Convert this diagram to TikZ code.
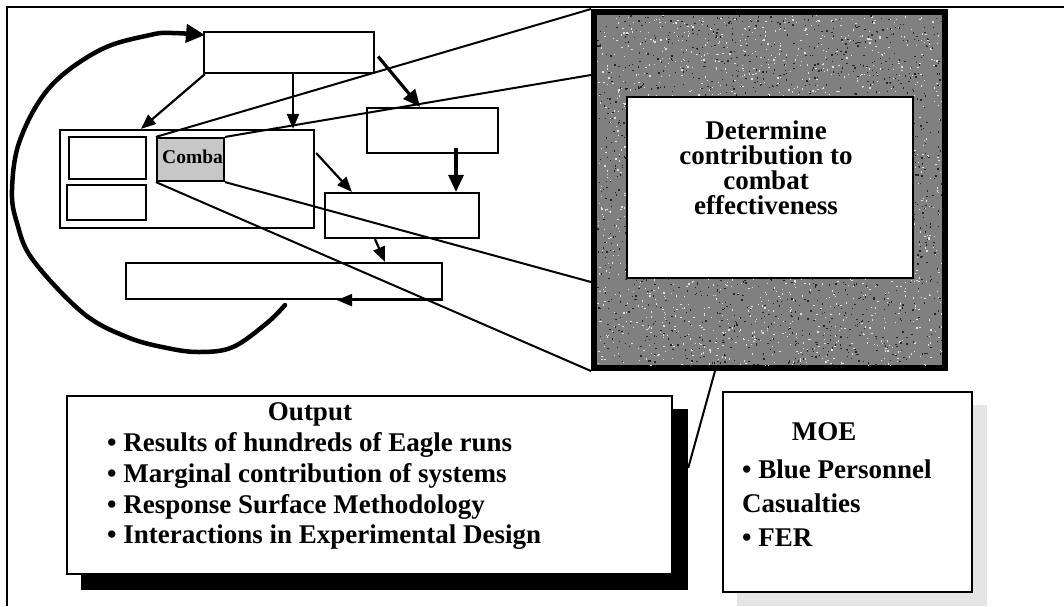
\documentclass[tikz,border=0pt]{standalone}
\usepackage{fontspec}
\setmainfont{Liberation Serif}
\usetikzlibrary{arrows.meta,calc}
\begin{document}
\begin{tikzpicture}[x=1pt,y=-1pt,
  box/.style={draw,line width=2.2pt,fill=white,inner sep=0pt,rectangle},
  arr/.style={line width=2.2pt,-{Triangle[length=15pt,width=12pt]}},
  thickarr/.style={line width=3.2pt,-{Triangle[length=17pt,width=15pt]}},
  cone/.style={line width=2pt},
  bigtxt/.style={font=\fontsize{27}{25}\selectfont\bfseries,align=center,inner sep=0pt},
  listtxt/.style={font=\fontsize{27}{31}\selectfont\bfseries,inner sep=0pt,anchor=base west},
  moetxt/.style={font=\fontsize{27}{31}\selectfont\bfseries,inner sep=0pt,anchor=base west}
]
\useasboundingbox (0,0) rectangle (1064,606);
\fill[white] (0,0) rectangle (1064,606);
% outer frame
\coordinate (f1) at (7,606);
\coordinate (f2) at (7,7);
\coordinate (f3) at (1064,7);
\draw[line width=1.5pt] (f1) -- (f2) -- (f3);

% left flow diagram
\node[box,minimum width=170pt,minimum height=41pt] (top) at (289,52.5) {};
\node[box,minimum width=254pt,minimum height=98pt] (cont) at (187,179) {};
\node[box,minimum width=77pt,minimum height=42pt] (in1) at (107.5,158) {};
\node[box,minimum width=79pt,minimum height=35pt] (in2) at (106.5,202.5) {};
\node[box,fill=black!22,minimum width=67pt,minimum height=43pt] (combat) at (190.5,159.5) {};
\begin{scope}
\clip (157,138) rectangle (223,181);
\node[font=\fontsize{19.5}{19}\selectfont\bfseries,inner sep=0pt,anchor=base west] (combtxt) at (162,163) {Comba};
\end{scope}
\node[box,minimum width=131pt,minimum height=45pt] (r1) at (432.5,130.5) {};
\node[box,minimum width=154pt,minimum height=45pt] (r2) at (402,215.5) {};
\node[box,minimum width=316pt,minimum height=36pt] (bot) at (284,281) {};

% arrows
\draw[arr] ([xshift=2pt]top.south west) -- ([xshift=82pt]cont.north west);
\draw[arr] ([xshift=4pt]top.south) -- ([xshift=4pt]top.south |- cont.north);
\draw[thickarr] ([xshift=3pt,yshift=-4pt]top.east) -- ([xshift=-12.5pt]r1.north);
\draw[thickarr] ([xshift=23.5pt,yshift=6pt]r1.south) -- ([xshift=54pt]r2.north);
\draw[arr] ([xshift=1pt,yshift=26pt]cont.east) -- ([xshift=28pt]r2.north west);
\draw[arr] ([xshift=-27pt]r2.south) -- ([xshift=101pt]bot.north);
\draw[arr] (bot.south east) -- ([xshift=53pt]bot.south);

% big curved feedback arrow
\coordinate (cs) at (285,305);
\coordinate (ct) at (205,35);
\draw[line width=4.5pt,line cap=round,-{Triangle[length=19pt,width=18pt]}]
  plot[smooth,tension=0.6] coordinates {(cs) (267,323) (233,347) (200,352) (167,348) (127,337) (83,313) (33,260) (17,223) (12,190) (20,140) (50,87) (100,50) (150,35) (172,33) (ct)};

% zoom panel
\node[draw,line width=6pt,fill=black!50,minimum width=351pt,minimum height=356pt,inner sep=0pt] (panel) at (769.5,190) {};
\begin{scope}
\clip (597,15) rectangle (942,365);
\pgfmathsetseed{7}
\foreach \i in {1,...,1800}{
  \pgfmathsetmacro\xx{597+345*rnd}
  \pgfmathsetmacro\yy{15+350*rnd}
  \fill[black!12] (\xx,\yy) rectangle ++(1.3,1.3);
}
\foreach \i in {1,...,1800}{
  \pgfmathsetmacro\xx{597+345*rnd}
  \pgfmathsetmacro\yy{15+350*rnd}
  \fill[black!85] (\xx,\yy) rectangle ++(1.3,1.3);
}
\end{scope}
\node[box,minimum width=286pt,minimum height=181pt] (inner) at (770,187.5) {};
\node[bigtxt,anchor=north] (dtext) at (766,121) {Determine\\contribution to\\combat\\effectiveness};

% cone lines
\draw[cone] (combat.north west) -- (panel.north west);
\draw[cone] (combat.north east) -- ([yshift=115pt]panel.west);
\draw[cone] (combat.south east) -- ([yshift=-92pt]panel.west);
\draw[cone] (combat.south west) -- (panel.south west);

% output box with shadow
\node[fill=black,inner sep=0pt,minimum width=607pt,minimum height=181pt] (oshadow) at (384.5,499.5) {};
\node[box,minimum width=605pt,minimum height=178pt] (out) at (369.5,485) {};
\node[font=\fontsize{27}{31}\selectfont\bfseries,inner sep=0pt,anchor=base] (o0) at (310,420) {Output};
\node[listtxt] (o1) at (107,451) {• Results of hundreds of Eagle runs};
\node[listtxt] (o2) at (107,482) {• Marginal contribution of systems};
\node[listtxt] (o3) at (107,513) {• Response Surface Methodology};
\node[listtxt] (o4) at (107,543) {• Interactions in Experimental Design};

\draw[cone] ([xshift=-54.5pt]panel.south) -- ([yshift=31.5pt]oshadow.east);

% MOE box with light shadow
\fill[black!10] (972,405) rectangle (987,606);
\fill[black!10] (737,592) rectangle (987,606);
\node[box,minimum width=249pt,minimum height=200pt] (moe) at (847.5,492) {};
\node[font=\fontsize{27}{31}\selectfont\bfseries,inner sep=0pt,anchor=base] (m0) at (824,440) {MOE};
\node[moetxt] (m1) at (742,478) {• Blue Personnel};
\node[moetxt] (m2) at (742,512) {Casualties};
\node[moetxt] (m3) at (742,546) {• FER};
\end{tikzpicture}
\end{document}
